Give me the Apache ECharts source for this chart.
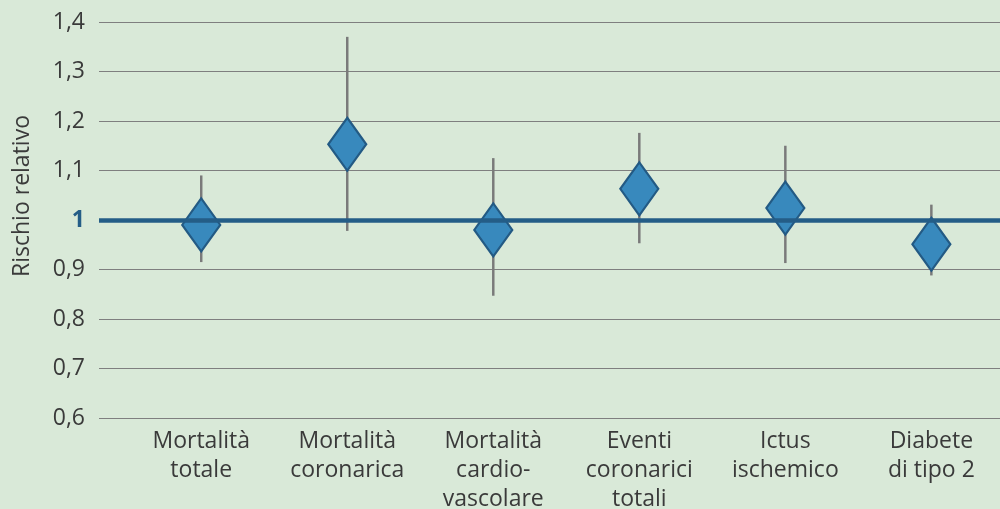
<!DOCTYPE html>
<html><head><meta charset="utf-8">
<script src="https://cdn.jsdelivr.net/npm/echarts@6/dist/echarts.min.js"></script>
<style>html,body{margin:0;padding:0;background:#d9e9d8;}#c{width:1000px;height:509px;}</style>
</head><body><div id="c"></div>
<script>
const categories = ["Mortalità\ntotale","Mortalità\ncoronarica","Mortalità\ncardio-\nvascolare","Eventi\ncoronarici\ntotali","Ictus\nischemico","Diabete\ndi tipo 2"];
const estimate = [0.99, 1.153, 0.98, 1.063, 1.024, 0.951];
const lower = [0.915, 0.978, 0.847, 0.953, 0.913, 0.888];
const upper = [1.09, 1.37, 1.125, 1.176, 1.15, 1.031];
const yTicks = [0.6,0.7,0.8,0.9,1.0,1.1,1.2,1.3,1.4];
const refValue = 1;

const FONT = '"Open Sans"';
const chart = echarts.init(document.getElementById('c'), null, {renderer:'canvas'});
const idx = categories.map((_, i) => i);
chart.setOption({
  backgroundColor: '#d9e9d8',
  animation: false,
  textStyle: {fontFamily: FONT},
  grid: {left: 99, right: 0, top: 22, bottom: 91, containLabel: false, outerBoundsMode: 'none'},
  graphic: [{
    type: 'text', x: 22, y: 196, rotation: Math.PI/2,
    style: {text: 'Rischio relativo', fill: '#3a3a3a', font: '23px ' + FONT, align: 'center', verticalAlign: 'middle'}
  }],
  xAxis: {
    type: 'value', min: -0.7, max: 5.47,
    axisLine: {show: false}, axisTick: {show: false}, splitLine: {show: false},
    axisLabel: {
      customValues: idx,
      formatter: v => categories[Math.round(v)],
      color: '#3a3a3a', fontSize: 23, lineHeight: 29, margin: 9, fontFamily: FONT
    }
  },
  yAxis: {
    type: 'value', min: 0.6, max: 1.4, interval: 0.1,
    axisLine: {show: false}, axisTick: {show: false},
    splitLine: {lineStyle: {color: '#7f7f7f', width: 1.2}},
    axisLabel: {
      margin: 14, color: '#3a3a3a', fontSize: 23, fontFamily: FONT,
      formatter: v => {
        const r = Math.round(v*10)/10;
        if (r === 1) return '{b|1}';
        return r.toFixed(1).replace('.', ',');
      },
      rich: {b: {fontWeight: 'bold', color: '#245d87', fontSize: 23, fontFamily: FONT}}
    }
  },
  series: [
    {
      type: 'line', data: [], z: 1,
      markLine: {
        silent: true, symbol: 'none', label: {show: false},
        lineStyle: {color: '#245d87', width: 4.5, type: 'solid'},
        data: [{yAxis: refValue}]
      }
    },
    {
      type: 'custom', z: 3,
      data: idx.map(i => [i, lower[i], upper[i]]),
      encode: {x: 0, y: [1, 2]},
      renderItem: (params, api) => {
        const a = api.coord([api.value(0), api.value(1)]);
        const b = api.coord([api.value(0), api.value(2)]);
        return {type: 'line', shape: {x1: a[0], y1: a[1], x2: b[0], y2: b[1]},
          style: {stroke: '#7a7a7a', lineWidth: 2.5}};
      }
    },
    {
      type: 'scatter', z: 4,
      symbol: 'diamond', symbolSize: [38, 53],
      data: idx.map(i => [i, estimate[i]]),
      itemStyle: {color: '#3889bd', borderColor: '#235a84', borderWidth: 2.2, opacity: 1}
    }
  ]
});
</script></body></html>
